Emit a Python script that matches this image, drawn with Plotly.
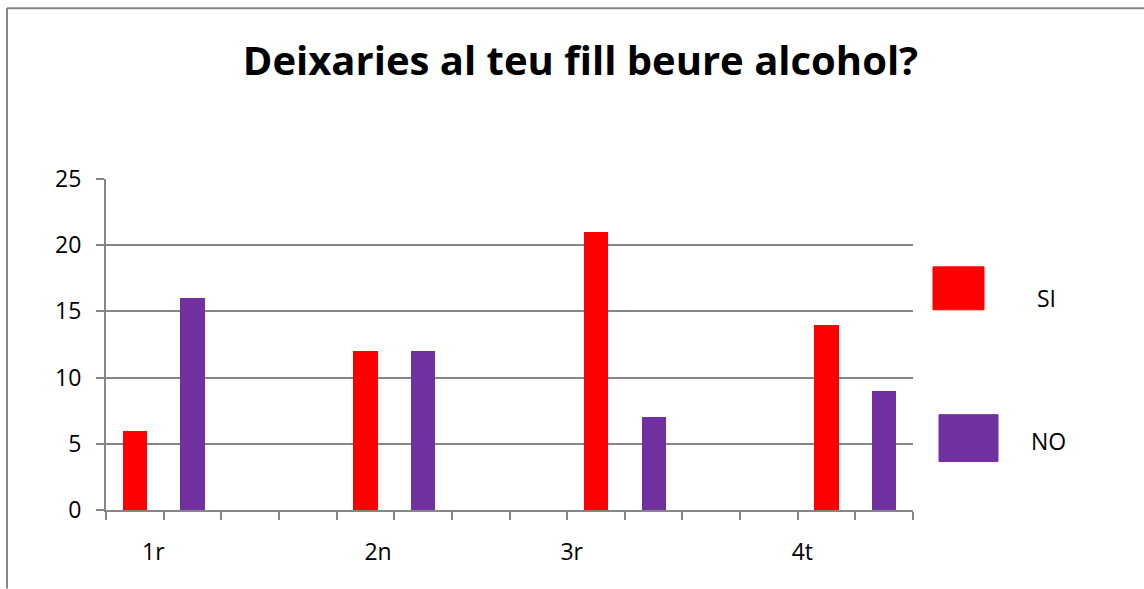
import plotly.graph_objects as go

title = "Deixaries al teu fill beure alcohol?"
series_names = ["SI", "NO"]
colors = ["#FF0000", "#7030A0"]
# 14 category slots on the x axis (Excel-style layout), only some filled
si_slots = [0.5, 4.5, 8.5, 12.5]
no_slots = [1.5, 5.5, 9.5, 13.5]
si_values = [6, 12, 21, 14]
no_values = [16, 12, 7, 9]
group_labels = ["1r", "2n", "3r", "4t"]
label_positions = [0.82, 4.72, 8.08, 12.08]
n_slots = 14

W, H = 1144, 589
L, R, T, B = 106, 913, 179, 510.5
pw, ph = R - L, B - T

def px_x(p):
    return (p - L) / pw

def px_y(p):
    return (B - p) / ph

font = "Open Sans"
fs = 23
fig = go.Figure()
fig.add_trace(go.Bar(x=si_slots, y=si_values, name=series_names[0],
                     marker=dict(color=colors[0], line=dict(width=0)), width=0.42))
fig.add_trace(go.Bar(x=no_slots, y=no_values, name=series_names[1],
                     marker=dict(color=colors[1], line=dict(width=0)), width=0.42))
# invisible trace for label axis
fig.add_trace(go.Scatter(x=label_positions, y=[0]*4, xaxis="x2", mode="markers",
                         marker=dict(opacity=0), showlegend=False, hoverinfo="skip"))

fig.update_layout(
    width=W, height=H,
    margin=dict(l=L, r=W - R, t=T, b=H - B),
    paper_bgcolor="white", plot_bgcolor="white",
    showlegend=False,
    font=dict(family=font, size=fs, color="black"),
    title=dict(text="<b>" + title + "</b>", x=(243 + 918) / 2 / W, xanchor="center",
               y=1 - 61 / H, yanchor="middle", font=dict(family=font, size=40, color="black")),
    xaxis=dict(range=[0, n_slots], tickvals=list(range(n_slots + 1)), showticklabels=False,
               ticks="outside", ticklen=8, tickcolor="#868686", tickwidth=2,
               showline=True, linecolor="#868686", linewidth=2, showgrid=False, zeroline=False),
    xaxis2=dict(range=[0, n_slots], overlaying="x", side="bottom", tickvals=label_positions,
                ticktext=group_labels, ticks="", showline=False, showgrid=False, zeroline=False,
                ticklabelstandoff=26, tickfont=dict(family=font, size=fs)),
    yaxis=dict(range=[0, 25], dtick=5, ticks="outside", ticklen=8, tickcolor="#868686", tickwidth=2,
               showline=True, linecolor="#868686", linewidth=2, gridcolor="#868686", gridwidth=1.5,
               zeroline=False, ticklabelstandoff=10, tickfont=dict(family=font, size=fs)),
    bargap=0,
)

# outer chart border: only top and left edges are visible in the crop
border = dict(color="#868686", width=2)
fig.add_shape(type="line", xref="paper", yref="paper",
              x0=px_x(7), x1=px_x(W), y0=px_y(8), y1=px_y(8), line=border, layer="below")
fig.add_shape(type="line", xref="paper", yref="paper",
              x0=px_x(7), x1=px_x(7), y0=px_y(8), y1=px_y(H), line=border, layer="below")

# legend drawn as shapes + text
leg = [
    dict(x0=933, x1=984, y0=267, y1=310, tx=1046, ty=298),
    dict(x0=939, x1=998, y0=415, y1=462, tx=1048, ty=441),
]
for i, g in enumerate(leg):
    fig.add_shape(type="rect", xref="paper", yref="paper",
                  x0=px_x(g["x0"]), x1=px_x(g["x1"]), y0=px_y(g["y1"]), y1=px_y(g["y0"]),
                  line=dict(color=colors[i], width=1), fillcolor=colors[i])
    fig.add_annotation(text=series_names[i], xref="paper", yref="paper",
                       x=px_x(g["tx"]), y=px_y(g["ty"]), showarrow=False,
                       xanchor="center", yanchor="middle", font=dict(family=font, size=fs))

fig.write_html("out.html", config={"displayModeBar": False})

# remove the default page margin and scrollbars so the figure fills the window exactly
with open("out.html", "r", encoding="utf-8") as f:
    html = f.read()
html = html.replace("<body>", '<body style="margin:0;padding:0;overflow:hidden;">', 1)
with open("out.html", "w", encoding="utf-8") as f:
    f.write(html)
